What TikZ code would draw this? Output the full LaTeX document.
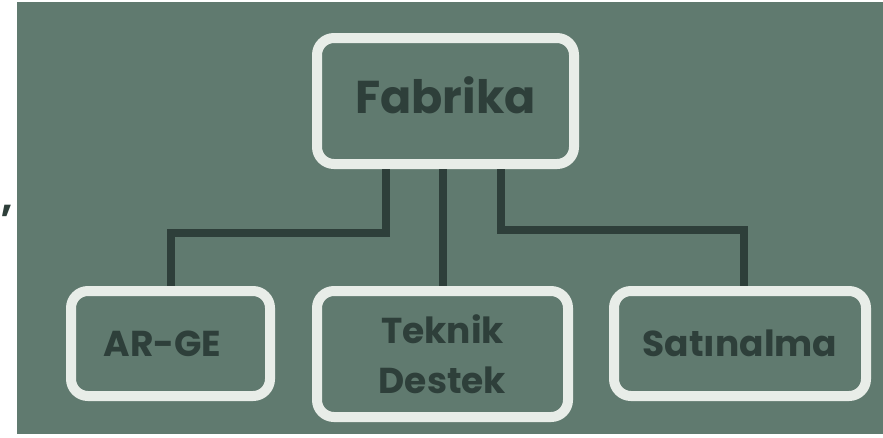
\documentclass[tikz,border=0pt]{standalone}
\usepackage{fontspec}
\setmainfont{Poppins}
\usepackage{tikz}

\definecolor{boardgreen}{HTML}{607A6F}
\definecolor{framewhite}{HTML}{E8EDE8}
\definecolor{inkdark}{HTML}{2E3F3A}

\begin{document}
\begin{tikzpicture}[x=1pt, y=-1pt,
  unitbox/.style={draw=framewhite, line width=10pt, rounded corners=17pt,
    text=inkdark, font=\fontsize{36}{50}\selectfont\bfseries, align=center},
  link/.style={draw=inkdark, line width=8pt}]
\useasboundingbox (0,0) rectangle (883,437);
\fill[white] (0,0) rectangle (883,437);
\fill[boardgreen] (17,2) rectangle (883,434);

\node[text=inkdark, font=\fontsize{40}{40}\selectfont\bfseries] (comma) at (7,211) {,};

\node[unitbox, minimum width=257pt, minimum height=126pt,
  font=\fontsize{46}{50}\selectfont\bfseries] (fab) at (445.5,101) {Fabrika\rule[-12pt]{0pt}{0pt}};
\node[unitbox, minimum width=199pt, minimum height=105pt] (arge) at (170.5,343.5) {AR-GE\hspace*{16pt}};
\node[unitbox, minimum width=251pt, minimum height=126pt] (tek) at (442.5,354) {Teknik\\Destek};
\node[unitbox, minimum width=252pt, minimum height=105pt] (sat) at (740,343.5) {Satınalma};

\draw[link] ([xshift=-60pt]fab.south) -- ++(0,64) -| (arge.north);
\draw[link] (tek.north |- fab.south) -- (tek.north);
\draw[link] ([xshift=55.5pt]fab.south) -- ++(0,60.5) -| ([xshift=4pt]sat.north);
\end{tikzpicture}
\end{document}
